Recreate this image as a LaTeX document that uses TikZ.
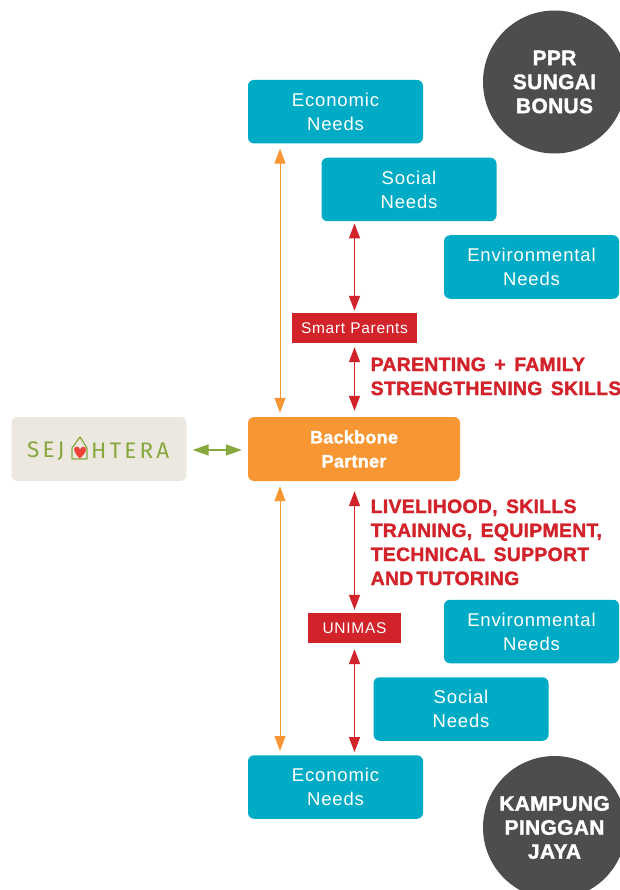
\documentclass[tikz,border=0pt]{standalone}
\usepackage{fontspec}
\setmainfont{Liberation Sans}
\newfontfamily\spaced[LetterSpace=4.6]{Liberation Sans}
\newfontfamily\heavy[FakeBold=1.6,LetterSpace=1.5]{Liberation Sans Bold}
\newfontfamily\skillfont[FakeBold=1.6,LetterSpace=1.5,WordSpace=1.5]{Liberation Sans Bold}
\newfontfamily\logofontA[LetterSpace=14]{Fira Sans}
\newfontfamily\logofontB[LetterSpace=14]{Fira Sans}
\usetikzlibrary{arrows.meta,calc}
\definecolor{teal}{HTML}{00ABC5}
\definecolor{bborange}{HTML}{F79633}
\definecolor{bbred}{HTML}{D2232B}
\definecolor{dark}{HTML}{4D4D4F}
\definecolor{beige}{HTML}{ECE8DF}
\definecolor{leaf}{HTML}{86A83E}
\definecolor{heart}{HTML}{EF4136}
\tikzset{
 x=1pt,y=-1pt,
 need/.style={fill=teal,rounded corners=6pt,minimum width=175pt,minimum height=63.5pt,inner sep=0pt,text=white,align=center,font=\spaced\fontsize{18.5}{24}\selectfont},
 tag/.style={fill=bbred,inner sep=0pt,text=white,font=\spaced\fontsize{15.5}{18}\selectfont},
 circ/.style={circle,fill=dark,minimum size=143pt,inner sep=0pt,text=white,align=center,font=\heavy\fontsize{21}{24}\selectfont},
 skill/.style={anchor=north west,inner sep=0pt,align=left,text=bbred,font=\skillfont\fontsize{19.4}{24}\selectfont},
 redarr/.style={draw=bbred,line width=1.5pt,{Triangle[length=15pt,width=11pt]}-{Triangle[length=15pt,width=11pt]}},
 orarr/.style={draw=bborange,line width=1pt,{Triangle[length=15pt,width=11pt]}-{Triangle[length=15pt,width=11pt]}},
 grarr/.style={draw=leaf,line width=1.5pt,{Triangle[length=16pt,width=11pt]}-{Triangle[length=16pt,width=11pt]}},
 logotext/.style={inner sep=0pt,text=leaf},
}
\begin{document}
\begin{tikzpicture}
\useasboundingbox (0,0) rectangle (620,890);
\clip (0,0) rectangle (620,890);
\node[circ] (ppr) at (554.5,82) {PPR\\SUNGAI\\BONUS};
\node[circ] (kpj) at (554.5,827.5) {KAMPUNG\\PINGGAN\\JAYA};
\node[need] (eco1) at (335.5,111.7) {Economic\\Needs};
\node[need] (soc1) at (409,189.5) {Social\\Needs};
\node[need] (env1) at (531.5,267) {Environmental\\Needs};
\node[tag,minimum width=125pt,minimum height=30pt] (smart) at (354.5,328) {Smart Parents};
\node[fill=bborange,rounded corners=6pt,minimum width=212pt,minimum height=64pt,inner sep=0pt,text=white,align=center,font=\heavy\fontsize{18}{24}\selectfont] (bb) at (354,449) {Backbone\\Partner};
\node[tag,minimum width=93pt,minimum height=30pt] (unimas) at (354.5,628) {UNIMAS};
\node[need] (env2) at (531.5,631.5) {Environmental\\Needs};
\node[need] (soc2) at (461,709) {Social\\Needs};
\node[need] (eco2) at (335.5,787) {Economic\\Needs};
\node[fill=beige,rounded corners=6pt,minimum width=175pt,minimum height=64pt,inner sep=0pt] (logo) at (99,449) {};
\node[logotext,anchor=west,font=\logofontA\fontsize{22.5}{24}\selectfont] (lt1) at (27,451) {SEJ};
\node[logotext,anchor=west,font=\logofontB\fontsize{22.5}{24}\selectfont] (lt2) at (91,451) {HTERA};
\draw[leaf,line width=1.2pt,line join=round] (72,459) -- (72,448) -- (80,437) -- (87,448) -- (87,459) -- cycle;
\fill[heart] (80,458.5) .. controls (74,453) and (72.5,448) .. (76,446.8) .. controls (78,446.2) and (79.5,447.5) .. (80,449.5) .. controls (81,446) and (86,446) .. (86,449.5) .. controls (86,453) and (82,456) .. (80,458.5) -- cycle;
\node[skill] (sk1) at (370.5,357.3) {PARENTING + FAMILY\\STRENGTHENING SKILLS};
\node[skill] (sk2) at (370.5,499.3) {LIVELIHOOD, SKILLS\\TRAINING, EQUIPMENT,\\TECHNICAL SUPPORT\\AND\kern3pt TUTORING};
\coordinate (ox) at (280,0);
\coordinate (rx) at (354.5,0);
\draw[orarr,shorten <=5pt,shorten >=4pt] (eco1.south -| ox) -- (bb.north -| ox);
\draw[orarr,shorten <=5pt,shorten >=4pt] (bb.south -| ox) -- (eco2.north -| ox);
\draw[redarr,shorten <=2pt,shorten >=2pt] (soc1.south -| rx) -- (smart.north -| rx);
\draw[redarr,shorten <=4pt,shorten >=6pt] (smart.south -| rx) -- (bb.north -| rx);
\draw[redarr,shorten <=10pt,shorten >=3pt] (bb.south -| rx) -- (unimas.north -| rx);
\draw[redarr,shorten <=6pt,shorten >=3pt] (unimas.south -| rx) -- (eco2.north -| rx);
\draw[grarr,shorten <=6pt,shorten >=6pt] ([yshift=-1pt]logo.east) -- ([yshift=-1pt]bb.west);
\end{tikzpicture}
\end{document}
